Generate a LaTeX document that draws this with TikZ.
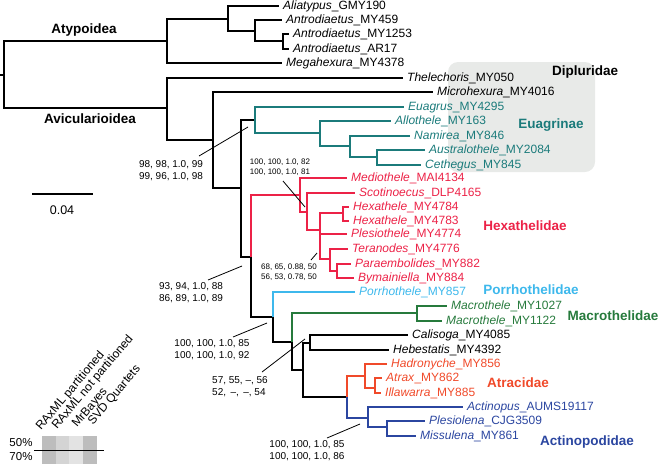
\documentclass[tikz,border=0pt]{standalone}
\usepackage{fontspec}
\setmainfont{Liberation Sans}
\definecolor{euag}{HTML}{1B7B7B}
\definecolor{hexa}{HTML}{EC2247}
\definecolor{porr}{HTML}{3DB8EC}
\definecolor{macro}{HTML}{267A3C}
\definecolor{atra}{HTML}{F04A2A}
\definecolor{acti}{HTML}{2B46A0}
\definecolor{diplu}{HTML}{E8EAE8}

\begin{document}
\begin{tikzpicture}[x=1pt,y=-1pt,
  branch/.style={line width=1.8pt},
  taxon/.style={anchor=west,inner xsep=4pt,inner ysep=0pt,font=\fontsize{12}{14}\selectfont,text height=8.6pt,text depth=2.6pt},
  clade/.style={font=\bfseries\fontsize{13.5}{15}\selectfont},
  support/.style={align=center,inner sep=0pt,font=\fontsize{10}{12}\selectfont},
  smallsupport/.style={align=center,inner sep=0pt,font=\fontsize{8}{10}\selectfont},
  leader/.style={line width=0.8pt},
  method/.style={rotate=50,anchor=base west,inner sep=0pt,font=\fontsize{12}{14}\selectfont}]

\useasboundingbox (0,0) rectangle (660,464);

%grey box behind Dipluridae
\fill[diplu,rounded corners=10pt] (448,62) rectangle (595,172);

%internal nodes
\coordinate (stub) at (0,75);
\coordinate (root) at (4,75);
\coordinate (a1) at (167,41);
\coordinate (a2) at (228,19);
\coordinate (a3) at (255,31);
\coordinate (a4) at (283,41);
\coordinate (v1) at (167,108);
\coordinate (v2) at (213,140);
\coordinate (v3) at (241,188);
\coordinate (e1) at (255,120);
\coordinate (e2) at (320,133);
\coordinate (e3) at (350,146);
\coordinate (e4) at (377,157);
\coordinate (v4) at (251,257);
\coordinate (h1) at (300,195);
\coordinate (h2) at (307,212);
\coordinate (h3) at (320,230);
\coordinate (h4) at (343,213);
\coordinate (h5) at (330,259);
\coordinate (h6) at (337,271);
\coordinate (p1) at (273,317);
\coordinate (m1) at (292,342);
\coordinate (m2) at (417,313);
\coordinate (c1) at (303,370);
\coordinate (c2) at (310,343);
\coordinate (r0) at (347,397);
\coordinate (r1) at (365,376);
\coordinate (r2) at (375,388);
\coordinate (b1) at (368,418);
\coordinate (b2) at (387,427);

%tips
\node[taxon] (t01) at (279,6) {\textit{Aliatypus}\_GMY190};
\node[taxon] (t02) at (282,20) {\textit{Antrodiaetus}\_MY459};
\node[taxon] (t03) at (289,34) {\textit{Antrodiaetus}\_MY1253};
\node[taxon] (t04) at (289,49) {\textit{Antrodiaetus}\_AR17};
\node[taxon] (t05) at (282,63) {\textit{Megahexura}\_MY4378};
\node[taxon] (t06) at (403,78) {\textit{Thelechoris}\_MY050};
\node[taxon] (t07) at (433,92) {\textit{Microhexura}\_MY4016};
\node[taxon,euag] (t08) at (404,107) {\textit{Euagrus}\_MY4295};
\node[taxon,euag] (t09) at (391,121) {\textit{Allothele}\_MY163};
\node[taxon,euag] (t10) at (410,136) {\textit{Namirea}\_MY846};
\node[taxon,euag] (t11) at (425,150) {\textit{Australothele}\_MY2084};
\node[taxon,euag] (t12) at (421,165) {\textit{Cethegus}\_MY845};
\node[taxon,hexa] (t13) at (347,178) {\textit{Mediothele}\_MAI4134};
\node[taxon,hexa] (t14) at (355,193) {\textit{Scotinoecus}\_DLP4165};
\node[taxon,hexa] (t15) at (349,207) {\textit{Hexathele}\_MY4784};
\node[taxon,hexa] (t16) at (349,221) {\textit{Hexathele}\_MY4783};
\node[taxon,hexa] (t17) at (347,234) {\textit{Plesiothele}\_MY4774};
\node[taxon,hexa] (t18) at (348,249) {\textit{Teranodes}\_MY4776};
\node[taxon,hexa] (t19) at (351,264) {\textit{Paraembolides}\_MY882};
\node[taxon,hexa] (t20) at (354,278) {\textit{Bymainiella}\_MY884};
\node[taxon,porr] (t21) at (355,292) {\textit{Porrhothele}\_MY857};
\node[taxon,macro] (t22) at (447,306) {\textit{Macrothele}\_MY1027};
\node[taxon,macro] (t23) at (442,321) {\textit{Macrothele}\_MY1122};
\node[taxon] (t24) at (408,335) {\textit{Calisoga}\_MY4085};
\node[taxon] (t25) at (389,350) {\textit{Hebestatis}\_MY4392};
\node[taxon,atra] (t26) at (387,364) {\textit{Hadronyche}\_MY856};
\node[taxon,atra] (t27) at (382,378) {\textit{Atrax}\_MY862};
\node[taxon,atra] (t28) at (381,393) {\textit{Illawarra}\_MY885};
\node[taxon,acti] (t29) at (463,407) {\textit{Actinopus}\_AUMS19117};
\node[taxon,acti] (t30) at (425,421) {\textit{Plesiolena}\_CJG3509};
\node[taxon,acti] (t31) at (416,436) {\textit{Missulena}\_MY861};

%Atypoidea
\draw[branch] (stub) -- (root);
\draw[branch] (root) |- (a1);
\draw[branch] (root) |- (v1);
\draw[branch] (a1) |- (a2);
\draw[branch] (a1) |- (t05.west);
\draw[branch] (a2) |- (t01.west);
\draw[branch] (a2) |- (a3);
\draw[branch] (a3) |- (t02.west);
\draw[branch] (a3) |- (a4);
\draw[branch] (a4) |- (t03.west);
\draw[branch] (a4) |- (t04.west);

%Avicularioidea backbone
\draw[branch] (v1) |- (t06.west);
\draw[branch] (v1) |- (v2);
\draw[branch] (v2) |- (t07.west);
\draw[branch] (v2) |- (v3);
\draw[branch] (v3) |- (e1);
\draw[branch] (v3) |- (v4);
\draw[branch] (v4) |- (p1);
\draw[branch] (p1) |- (m1);
\draw[branch] (m1) |- (c1);
\draw[branch] (c1) |- (c2);
\draw[branch] (c1) |- (r0);
\draw[branch] (c2) |- (t24.west);
\draw[branch] (c2) |- (t25.west);

%Euagrinae
\draw[branch,euag] (e1) |- (t08.west);
\draw[branch,euag] (e1) |- (e2);
\draw[branch,euag] (e2) |- (t09.west);
\draw[branch,euag] (e2) |- (e3);
\draw[branch,euag] (e3) |- (t10.west);
\draw[branch,euag] (e3) |- (e4);
\draw[branch,euag] (e4) |- (t11.west);
\draw[branch,euag] (e4) |- (t12.west);

%Hexathelidae
\draw[branch,hexa] (v4) |- (h1);
\draw[branch,hexa] (h1) |- (t13.west);
\draw[branch,hexa] (h1) |- (h2);
\draw[branch,hexa] (h2) |- (t14.west);
\draw[branch,hexa] (h2) |- (h3);
\draw[branch,hexa] (h3) |- (h4);
\draw[branch,hexa] (h3) |- (t17.west);
\draw[branch,hexa] (h3) |- (h5);
\draw[branch,hexa] (h4) |- (t15.west);
\draw[branch,hexa] (h4) |- (t16.west);
\draw[branch,hexa] (h5) |- (t18.west);
\draw[branch,hexa] (h5) |- (h6);
\draw[branch,hexa] (h6) |- (t19.west);
\draw[branch,hexa] (h6) |- (t20.west);

%Porrhothelidae, Macrothelidae
\draw[branch,porr] (p1) |- (t21.west);
\draw[branch,macro] (m1) |- (m2);
\draw[branch,macro] (m2) |- (t22.west);
\draw[branch,macro] (m2) |- (t23.west);

%Atracidae, Actinopodidae
\draw[branch,atra] (r0) |- (r1);
\draw[branch,atra] (r1) |- (t26.west);
\draw[branch,atra] (r1) |- (r2);
\draw[branch,atra] (r2) |- (t27.west);
\draw[branch,atra] (r2) |- (t28.west);
\draw[branch,acti] (r0) |- (b1);
\draw[branch,acti] (b1) |- (t29.west);
\draw[branch,acti] (b1) |- (b2);
\draw[branch,acti] (b2) |- (t30.west);
\draw[branch,acti] (b2) |- (t31.west);

%clade names
\node[clade] (atypoidea) at (84,30) {Atypoidea};
\node[clade] (avicularioidea) at (90,119) {Avicularioidea};
\node[clade] (dipluridae) at (585,72) {Dipluridae};
\node[clade,euag] (euagrinae) at (551,125) {Euagrinae};
\node[clade,hexa] (hexathelidae) at (525,226) {Hexathelidae};
\node[clade,porr] (porrhothelidae) at (531,290) {Porrhothelidae};
\node[clade,macro] (macrothelidae) at (613,316) {Macrothelidae};
\node[clade,atra] (atracidae) at (518,383) {Atracidae};
\node[clade,acti] (actinopodidae) at (587,442) {Actinopodidae};

%support values
\node[support] (s1) at (171,171) {98, 98, 1.0, 99\\99, 96, 1.0, 98};
\node[smallsupport] (s2) at (280,167) {100, 100, 1.0, 82\\100, 100, 1.0, 81};
\node[smallsupport] (s3) at (289,272) {68, 65, 0.88, 50\\56, 53, 0.78, 50};
\node[support] (s4) at (191,293) {93, 94, 1.0, 88\\86, 89, 1.0, 89};
\node[support] (s5) at (212,350) {100, 100, 1.0, 85\\100, 100, 1.0, 92};
\node[support,align=left,anchor=west] (s6) at (212,387) {57, 55, --, 56\\52, \,--, \,--, 54};
\node[support] (s7) at (307,451) {100, 100, 1.0, 85\\100, 100, 1.0, 86};

\coordinate (s1a) at (199,156); \coordinate (s1b) at (248,127);
\coordinate (s2a) at (283,181); \coordinate (s2b) at (305,207);
\coordinate (s3a) at (311,260); \coordinate (s3b) at (317,253);
\coordinate (s4a) at (208,280); \coordinate (s4b) at (242,266);
\coordinate (s5a) at (233,337); \coordinate (s5b) at (267,323);
\coordinate (s6a) at (262,372); \coordinate (s6b) at (305,339);
\coordinate (s7a) at (327,438); \coordinate (s7b) at (360,424);
\draw[leader] (s1a) -- (s1b);
\draw[leader] (s2a) -- (s2b);
\draw[leader] (s3a) -- (s3b);
\draw[leader] (s4a) -- (s4b);
\draw[leader] (s5a) -- (s5b);
\draw[leader] (s6a) -- (s6b);
\draw[leader] (s7a) -- (s7b);

%scale bar
\coordinate (sb0) at (32,194);
\coordinate (sb1) at (93,194);
\draw[line width=2.6pt] (sb0) -- (sb1);
\node[font=\fontsize{12.5}{14}\selectfont] (sblabel) at (62,210) {0.04};

%legend
\fill[black!26] (42,436) rectangle (56,464);
\fill[black!17] (56,436) rectangle (69,464);
\fill[black!11] (69,436) rectangle (83,464);
\fill[black!26] (83,436) rectangle (97,464);
\coordinate (lg0) at (34,450);
\coordinate (lg1) at (104,450);
\draw[line width=1pt] (lg0) -- (lg1);
\node[font=\fontsize{11.5}{13}\selectfont] (p50) at (21,443) {50\%};
\node[font=\fontsize{11.5}{13}\selectfont] (p70) at (21,457) {70\%};
\node[method] (m_rp) at (41,431) {RAxML partitioned};
\node[method] (m_rn) at (57,430) {RAxML not partitioned};
\node[method] (m_mb) at (77,428) {MrBayes};
\node[method] (m_svd) at (93,426) {SVD Quartets};

\end{tikzpicture}
\end{document}
